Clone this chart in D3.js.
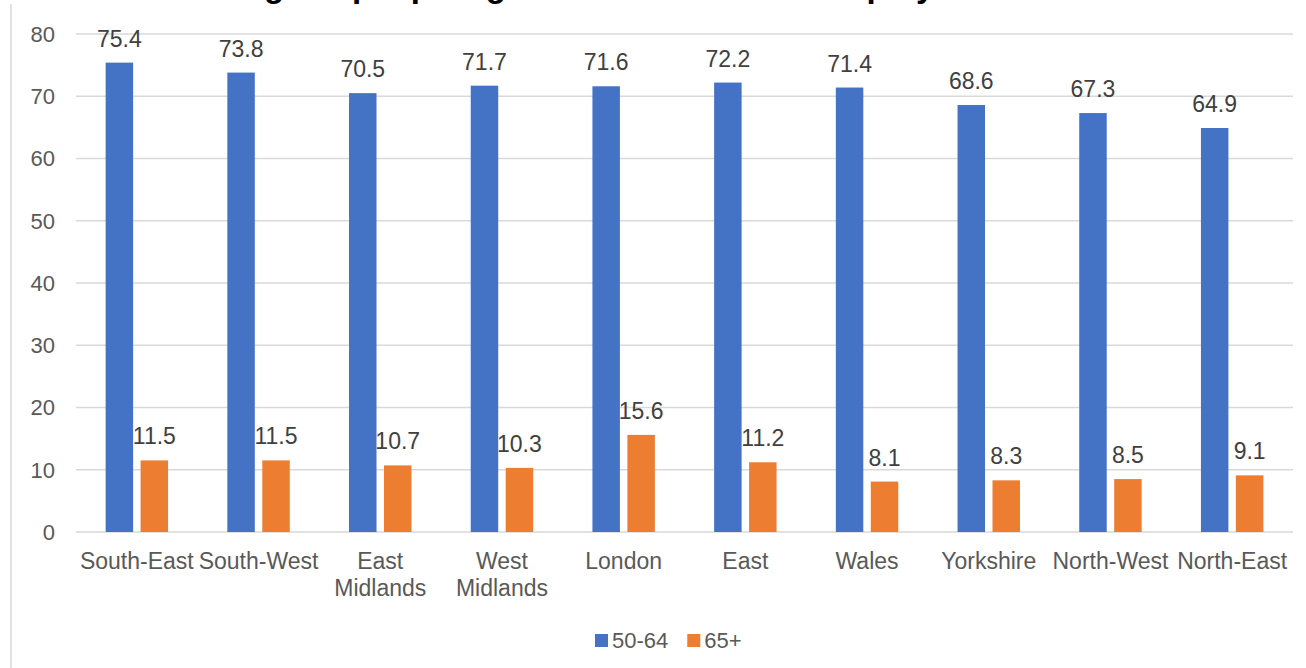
<!DOCTYPE html>
<html>
<head>
<meta charset="utf-8">
<script src="https://cdn.jsdelivr.net/npm/d3@7"></script>
<style>
  html, body { margin: 0; padding: 0; background: #ffffff; }
  svg { display: block; font-family: "Liberation Sans", Arial, sans-serif; }
</style>
</head>
<body>
<svg id="chart" width="1306" height="668"></svg>
<script>
const titleText = "Percentage of people aged 50-64 and 65+ in employment";
const categories = ["South-East", "South-West", "East Midlands", "West Midlands", "London", "East", "Wales", "Yorkshire", "North-West", "North-East"];
const seriesNames = ["50-64", "65+"];
const values5064 = [75.4, 73.8, 70.5, 71.7, 71.6, 72.2, 71.4, 68.6, 67.3, 64.9];
const values65plus = [11.5, 11.5, 10.7, 10.3, 15.6, 11.2, 8.1, 8.3, 8.5, 9.1];
const yTicks = [0, 10, 20, 30, 40, 50, 60, 70, 80];
const colors = ["#4472C4", "#ED7D31"];

const seriesValues = [values5064, values65plus];
const svg = d3.select("#chart");

const plot = { left: 76, right: 1293, top: 34, bottom: 532 };

// chart frame left edge
svg.append("line")
  .attr("x1", 11).attr("x2", 11).attr("y1", 4).attr("y2", 668)
  .attr("stroke", "#d9d9d9").attr("stroke-width", 1.5);

// title (mostly cut off at top)
const title = svg.append("text")
  .attr("y", -3)
  .attr("font-size", 33).attr("font-weight", "bold")
  .attr("fill", "#000000")
  .text(titleText);
{
  const idx = titleText.indexOf("people");
  const off = title.node().getSubStringLength(0, idx);
  title.attr("x", 352 - off);
}

const y = d3.scaleLinear().domain([0, 80]).range([plot.bottom, plot.top]);
const x0 = d3.scaleBand().domain(categories).range([plot.left, plot.right]).padding(0);
const bw = x0.bandwidth();
const x1 = d3.scaleBand().domain(seriesNames)
  .range([bw * 0.2435, bw * 0.7565])
  .paddingInner(0.214).paddingOuter(0);

// gridlines
svg.append("g").selectAll("line").data(yTicks).join("line")
  .attr("x1", plot.left).attr("x2", plot.right)
  .attr("y1", d => y(d)).attr("y2", d => y(d))
  .attr("stroke", "#d9d9d9").attr("stroke-width", 1.5);

// y tick labels
svg.append("g").selectAll("text").data(yTicks).join("text")
  .attr("x", 55).attr("y", d => y(d)).attr("dy", "0.36em")
  .attr("text-anchor", "end")
  .attr("font-size", 22).attr("fill", "#595959")
  .text(d => d);

// bars
const rows = [];
categories.forEach((c, i) => {
  seriesNames.forEach((s, j) => rows.push({ cat: c, ser: s, j: j, v: seriesValues[j][i] }));
});

svg.append("g").selectAll("rect").data(rows).join("rect")
  .attr("x", d => x0(d.cat) + x1(d.ser))
  .attr("width", x1.bandwidth())
  .attr("y", d => y(d.v))
  .attr("height", d => y(0) - y(d.v))
  .attr("fill", d => colors[d.j]);

// data labels
svg.append("g").selectAll("text").data(rows).join("text")
  .attr("x", d => x0(d.cat) + x1(d.ser) + x1.bandwidth() / 2)
  .attr("y", d => y(d.v) - 16)
  .attr("text-anchor", "middle")
  .attr("font-size", 23).attr("fill", "#404040")
  .text(d => d.v.toFixed(1));

// category labels
const catG = svg.append("g").selectAll("text").data(categories).join("text")
  .attr("text-anchor", "middle")
  .attr("font-size", 23).attr("fill", "#595959")
  .attr("x", d => x0(d) + bw / 2)
  .attr("y", 569);
catG.each(function (d) {
  const parts = d.split(" ");
  const t = d3.select(this);
  parts.forEach((p, k) => {
    t.append("tspan").attr("x", x0(d) + bw / 2).attr("dy", k === 0 ? 0 : 27).text(p);
  });
});

// legend
const legend = svg.append("g");
let lx = 595;
seriesNames.forEach((s, j) => {
  legend.append("rect").attr("x", lx).attr("y", 634).attr("width", 13).attr("height", 13).attr("fill", colors[j]);
  const t = legend.append("text").attr("x", lx + 17).attr("y", 640.5).attr("dy", "0.36em")
    .attr("font-size", 22).attr("fill", "#595959").text(s);
  lx += 17 + t.node().getComputedTextLength() + 19;
});
</script>
</body>
</html>
